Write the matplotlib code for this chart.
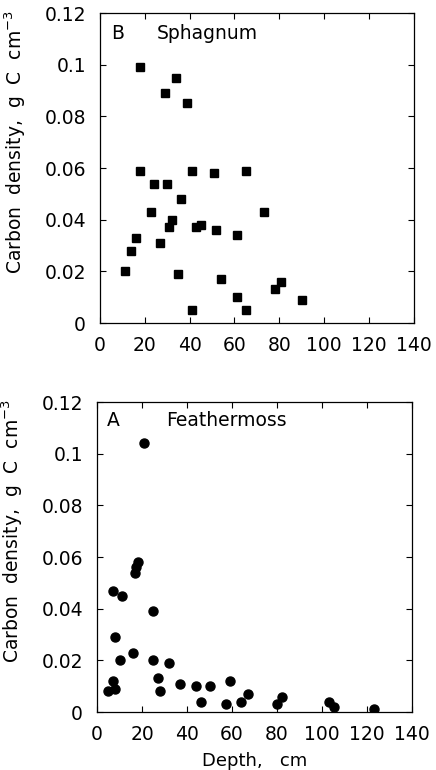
import matplotlib
matplotlib.use('Agg')
import matplotlib.pyplot as plt

# Panel B: Sphagnum (depth cm, carbon density g C cm-3)
sphagnum_depth = [11, 14, 16, 18, 18, 23, 24, 27, 29, 30, 31, 32, 34, 35, 36, 39,
                  41, 41, 43, 45, 51, 52, 54, 61, 61, 65, 65, 73, 78, 81, 90]
sphagnum_carbon = [0.020, 0.028, 0.033, 0.059, 0.099, 0.043, 0.054, 0.031, 0.089, 0.054,
                   0.037, 0.040, 0.095, 0.019, 0.048, 0.085, 0.059, 0.005, 0.037, 0.038,
                   0.058, 0.036, 0.017, 0.034, 0.010, 0.059, 0.005, 0.043, 0.013, 0.016,
                   0.009]

# Panel A: Feathermoss
feather_depth = [5, 7, 7, 8, 8, 10, 11, 16, 17, 17.5, 18, 21, 25, 25, 27, 28, 32,
                 37, 44, 46, 50, 57.5, 59, 64, 67, 80, 82, 103, 105.5, 123]
feather_carbon = [0.008, 0.047, 0.012, 0.029, 0.009, 0.020, 0.045, 0.023, 0.054, 0.056,
                  0.058, 0.104, 0.039, 0.020, 0.013, 0.008, 0.019, 0.011, 0.010, 0.004,
                  0.010, 0.003, 0.012, 0.004, 0.007, 0.003, 0.006, 0.004, 0.002, 0.001]

x_ticks = [0, 20, 40, 60, 80, 100, 120, 140]
y_ticks = [0, 0.02, 0.04, 0.06, 0.08, 0.1, 0.12]
y_tick_labels = ['0', '0.02', '0.04', '0.06', '0.08', '0.1', '0.12']

plt.rcParams['font.family'] = ['DejaVu Sans']

fig = plt.figure(figsize=(4.36, 7.70), dpi=100)
ax_b = fig.add_axes([0.229, 0.5805, 0.720, 0.4026])
ax_a = fig.add_axes([0.2225, 0.0753, 0.7225, 0.4026])

ylabel = 'Carbon  density,  g  C  cm$^{-3}$'


def style_axis(ax):
    ax.set_xlim(0, 140)
    ax.set_ylim(0, 0.12)
    ax.set_xticks(x_ticks)
    ax.set_xticklabels([str(t) for t in x_ticks])
    ax.set_yticks(y_ticks)
    ax.set_yticklabels(y_tick_labels)
    ax.tick_params(direction='in', top=True, right=True, length=4, width=0.8,
                   labelsize=13.5)
    ax.tick_params(axis='x', pad=9)
    ax.tick_params(axis='y', pad=10)
    for s in ax.spines.values():
        s.set_linewidth(0.9)
    ax.set_ylabel(ylabel, fontsize=13.5)
    ax.yaxis.set_label_coords(-0.23, 0.585)


ax_b.plot(sphagnum_depth, sphagnum_carbon, 's', color='black', markersize=6.3)
style_axis(ax_b)
ax_b.text(0.035, 0.935, 'B', transform=ax_b.transAxes, fontsize=13.5, va='center')
ax_b.text(0.18, 0.935, 'Sphagnum', transform=ax_b.transAxes, fontsize=13.5, va='center')

ax_a.plot(feather_depth, feather_carbon, 'o', color='black', markersize=6.5)
style_axis(ax_a)
ax_a.text(0.03, 0.94, 'A', transform=ax_a.transAxes, fontsize=13.5, va='center')
ax_a.text(0.22, 0.94, 'Feathermoss', transform=ax_a.transAxes, fontsize=13.5, va='center')
ax_a.set_xlabel('Depth,   cm', fontsize=13)
ax_a.xaxis.set_label_coords(0.5, -0.128)

fig.savefig('out.png', dpi=100)
